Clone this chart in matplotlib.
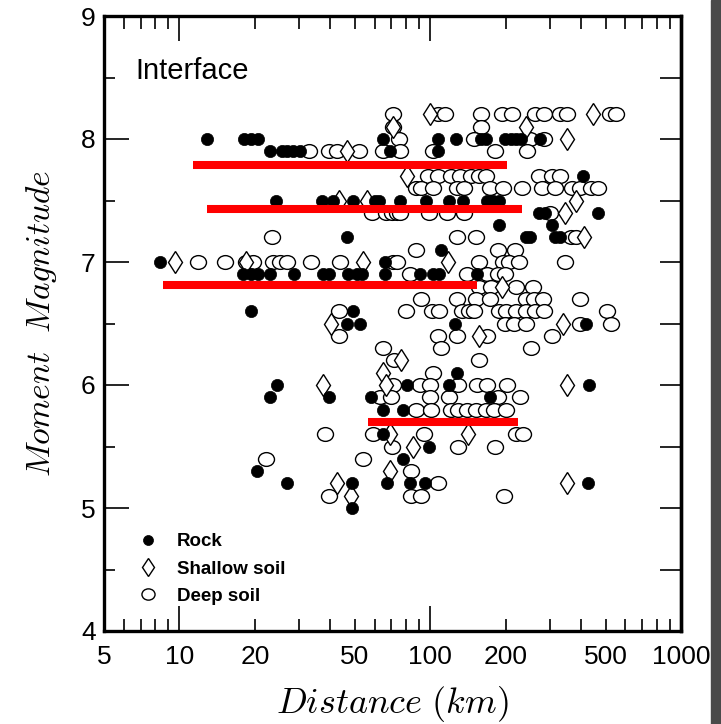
import numpy as np
import matplotlib
matplotlib.use('Agg')
import matplotlib.pyplot as plt
from matplotlib.path import Path
from matplotlib.transforms import Affine2D
from matplotlib.ticker import FixedLocator, FuncFormatter
from matplotlib.patches import Rectangle

plt.rcParams['font.family'] = ['Liberation Sans', 'DejaVu Sans']
plt.rcParams['mathtext.fontset'] = 'cm'

# recordings grouped by magnitude: (Mw, [distances in km])
rock = [
    (8.0, [12.9, 18.1, 19.3, 20.5, 64.6, 107, 127, 160, 167, 198, 209, 220, 230, 273]),
    (7.9, [22.9, 25.6, 26.8, 28.3, 30.2, 69, 107]),
    (7.7, [405]),
    (7.5, [24.2, 36.9, 40.9, 49.4, 60.1, 62.3, 76, 96.5, 119, 135, 168, 178, 188]),
    (7.4, [272, 286, 465]),
    (7.3, [188, 306]),
    (7.2, [46.5, 242, 251, 313, 330]),
    (7.1, [110]),
    (7.0, [8.4, 66]),
    (6.9, [18.0, 19.2, 20.5, 23.0, 28.7, 37.4, 39.6, 47.0, 50.9, 53.2, 66, 91, 103, 108, 153]),
    (6.6, [19.3, 49.1]),
    (6.5, [46.5, 52.3, 125, 419]),
    (6.1, [128]),
    (6.0, [24.4, 81, 119, 430]),
    (5.9, [22.9, 39.4, 58.3, 173]),
    (5.8, [64.6, 77.7]),
    (5.6, [64.6]),
    (5.5, [99]),
    (5.4, [77.7]),
    (5.3, [20.4]),
    (5.2, [26.9, 48.9, 67.5, 83, 95, 427]),
    (5.0, [48.9]),
]

shallow = [
    (8.2, [100, 445]),
    (8.1, [71, 242]),
    (8.0, [350]),
    (7.9, [46.5]),
    (7.7, [80.6]),
    (7.5, [43.2, 55.8, 383]),
    (7.4, [345]),
    (7.2, [412]),
    (7.0, [9.6, 18.5, 54, 118]),
    (6.8, [193]),
    (6.5, [40.3, 337]),
    (6.4, [157]),
    (6.2, [76.6]),
    (6.1, [64.6]),
    (6.0, [37.2, 66.5, 351]),
    (5.6, [68.9, 141]),
    (5.5, [85]),
    (5.3, [68.8]),
    (5.2, [42.6, 350]),
    (5.1, [48.4]),
]

deep = [
    (8.2, [71, 107, 114, 159, 193, 211, 262, 285, 330, 350, 519, 553]),
    (8.1, [71, 159]),
    (8.0, [75, 150, 251, 285]),
    (7.9, [32.8, 39.3, 42.6, 52, 64.6, 75.5, 103, 181, 244]),
    (7.7, [97.7, 107, 121, 132, 145, 157, 167, 271, 305, 330]),
    (7.6, [88, 92, 103, 128, 136, 173, 195, 233, 278, 313, 366, 394, 436, 465]),
    (7.4, [58.4, 66.4, 70.5, 74, 75.5, 99, 117, 136, 300]),
    (7.2, [23.4, 128, 152, 364, 380]),
    (7.1, [88, 186, 218]),
    (7.0, [11.8, 15.2, 18.5, 19.7, 23.6, 25.1, 26.9, 33.6, 43.7, 71, 74, 157, 195, 206, 225, 345]),
    (6.9, [82.8, 140, 169, 186, 198]),
    (6.8, [157, 174, 220, 258]),
    (6.7, [92, 128, 152, 173, 242, 259, 281, 394]),
    (6.6, [43.3, 80, 102, 108, 134, 143, 150, 188, 201, 220, 240, 262, 285, 509]),
    (6.5, [198, 215, 240, 394, 524]),
    (6.4, [43.3, 107, 128, 169, 305]),
    (6.3, [65, 110, 253]),
    (6.2, [72, 157]),
    (6.1, [103]),
    (6.0, [71, 91, 100, 129, 153, 168, 202]),
    (5.9, [63, 70, 100, 119, 187, 229]),
    (5.8, [88, 101, 121, 129, 140, 152, 167, 180, 201]),
    (5.6, [38, 59.2, 94, 220, 235]),
    (5.5, [70.5, 129, 182]),
    (5.4, [22.2, 54]),
    (5.3, [84]),
    (5.2, [107]),
    (5.1, [39.6, 84, 92, 197]),
]

# red bars: magnitude and distance span
red_mag = [7.79, 7.43, 6.81, 5.70]
red_start = [11.3, 12.9, 8.6, 56.5]
red_end = [203, 233, 154, 224]

x_labeled = [5, 10, 20, 50, 100, 200, 500, 1000]


def expand(rows):
    d, m = [], []
    for mag, dists in rows:
        d += dists
        m += [mag] * len(dists)
    return np.array(d), np.array(m)


fig = plt.figure(figsize=(7.21, 7.24), dpi=100)
ax = fig.add_axes([104 / 721, 1 - 631 / 724, 577 / 721, 615 / 724])

# slightly flattened open circle
ellipse = Path.unit_circle().transformed(Affine2D().scale(1.0, 0.86))

d, m = expand(deep)
ax.plot(d, m, ls='none', marker=ellipse, ms=11.5, mfc='white', mec='black', mew=1.0,
        label='Deep soil', zorder=2)
d, m = expand(shallow)
ax.plot(d, m, ls='none', marker='d', ms=11.5, mfc='white', mec='black', mew=1.0,
        label='Shallow soil', zorder=3)
d, m = expand(rock)
ax.plot(d, m, ls='none', marker='o', ms=8.8, mfc='black', mec='black', mew=0.5,
        label='Rock', zorder=4)

ax.hlines(red_mag, red_start, red_end, colors='#ff0000', lw=5.8, zorder=6)

ax.set_xscale('log')
ax.set_xlim(5, 1000)
ax.set_ylim(4, 9)

ax.xaxis.set_major_locator(FixedLocator([10, 100, 1000]))
minors = [v * k for k in (1, 10, 100) for v in range(2, 10) if v * k < 1000] + [5]
ax.xaxis.set_minor_locator(FixedLocator(sorted(set(minors) - {10, 100})))
ax.xaxis.set_major_formatter(FuncFormatter(lambda v, _: f'{v:g}'))
ax.xaxis.set_minor_formatter(FuncFormatter(lambda v, _: f'{v:g}' if round(v) in x_labeled else ''))

ax.yaxis.set_major_locator(FixedLocator([4, 5, 6, 7, 8, 9]))
ax.yaxis.set_minor_locator(FixedLocator([4.5, 5.5, 6.5, 7.5, 8.5]))

ax.tick_params(which='both', direction='in', top=True, right=False, width=1.2,
               labelsize=19, colors='black')
ax.tick_params(axis='x', which='major', length=18, pad=10)
ax.tick_params(axis='x', which='minor', length=9, pad=10)
ax.tick_params(axis='y', which='major', length=18, pad=6)
ax.tick_params(axis='y', which='minor', length=8)

sec = ax.secondary_yaxis('right')
sec.set_yticks(np.arange(4, 9.01, 0.5))
sec.tick_params(direction='in', length=15, width=1.2, labelright=False)
sec.spines['right'].set_linewidth(2.4)

for s in ax.spines.values():
    s.set_linewidth(2.4)

ax.set_xlabel(r'$Distance\ (km)$', fontsize=26, labelpad=11)
ax.set_ylabel(r'$Moment\ \ Magnitude$', fontsize=24, labelpad=16)

ax.text(0.055, 0.91, 'Interface', transform=ax.transAxes, fontsize=21,
        ha='left', va='center')

h, l = ax.get_legend_handles_labels()
order = [2, 1, 0]
leg = ax.legend([h[i] for i in order], [l[i] for i in order], loc='center left',
                bbox_to_anchor=(0.060, 0.1008), frameon=False, fontsize=13.5,
                handletextpad=1.05, labelspacing=0.55, handlelength=1.0,
                borderpad=0, borderaxespad=0, markerscale=0.82)
for t in leg.get_texts():
    t.set_fontweight('bold')

fig.patches.append(Rectangle((711 / 721, 0), 10 / 721, 1, transform=fig.transFigure,
                             color='#4a4a4a', zorder=10))

fig.savefig('out.png', dpi=100)
